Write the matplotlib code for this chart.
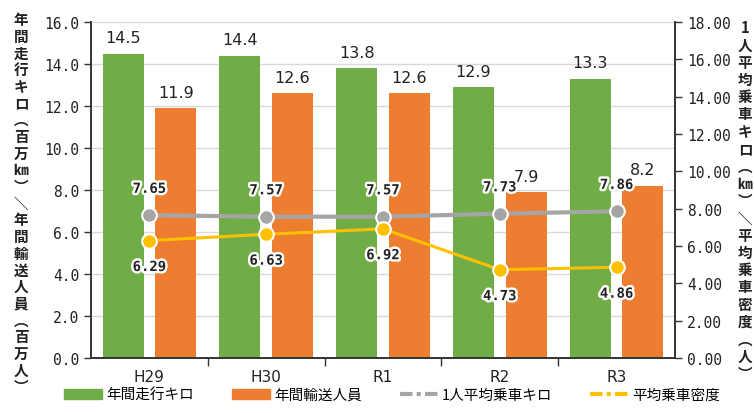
import matplotlib
matplotlib.use("Agg")
import matplotlib.pyplot as plt
import matplotlib.patheffects as pe
from matplotlib.lines import Line2D
from matplotlib.patches import Patch
from matplotlib.ticker import FormatStrFormatter, MultipleLocator
import numpy as np

years = ["H29", "H30", "R1", "R2", "R3"]
km_total = [14.5, 14.4, 13.8, 12.9, 13.3]      # 年間走行キロ (百万km)
passengers = [11.9, 12.6, 12.6, 7.9, 8.2]      # 年間輸送人員 (百万人)
avg_km = [7.65, 7.57, 7.57, 7.73, 7.86]        # 1人平均乗車キロ (km)
density = [6.29, 6.63, 6.92, 4.73, 4.86]       # 平均乗車密度 (人)

series_names = ["年間走行キロ", "年間輸送人員", "1人平均乗車キロ", "平均乗車密度"]
left_title = (list("年間走行キロ") + ["︵", "百", "万", "㎞", "︶", "＼"]
              + list("年間輸送人員") + ["︵", "百", "万", "人", "︶"])
right_title = (list("1人平均乗車キロ") + ["︵", "㎞", "︶", "＼"]
               + list("平均乗車密度") + ["︵", "人", "︶"])

GREEN = "#70ad47"
ORANGE = "#ed7d31"
GRAY = "#a5a5a5"
YELLOW = "#ffc000"
AXIS = "#333333"
JP = ["Noto Sans CJK JP", "DejaVu Sans"]
NUM = ["Liberation Sans Narrow", "DejaVu Sans"]
MONO = "DejaVu Sans Mono"

W, H = 754, 414
fig = plt.figure(figsize=(W / 100, H / 100), dpi=100)
ax = fig.add_axes([91 / W, 1 - 359 / H, 584 / W, 336 / H])
ax2 = ax.twinx()

x = np.arange(len(years))
bw = 0.35
b1 = ax.bar(x - 0.225, km_total, bw, color=GREEN, zorder=2)
b2 = ax.bar(x + 0.225, passengers, bw, color=ORANGE, zorder=2)
for bars, vals in ((b1, km_total), (b2, passengers)):
    ax.bar_label(bars, labels=[f"{v:.1f}" for v in vals], padding=6,
                 fontsize=11.5, family=NUM, color="#222222")

ax.set_xlim(-0.5, len(years) - 0.5)
ax.set_ylim(0, 16)
ax2.set_ylim(0, 18)

halo = [pe.withStroke(linewidth=3.5, foreground="white")]
for vals, col, lw, dy in ((avg_km, GRAY, 3.0, 19), (density, YELLOW, 2.2, -19)):
    ax2.plot(x, vals, color=col, lw=lw, marker="o", ms=10.5, mfc=col,
             mec="white", mew=1.5, zorder=3)
    for xi, v in zip(x, vals):
        ax2.annotate(f"{v:.2f}", (xi, v), xytext=(0, dy), textcoords="offset points",
                     ha="center", va="center", fontsize=10, family=MONO,
                     fontweight="bold", color="#222222", path_effects=halo, zorder=4)

# grid and axes
ax.set_axisbelow(True)
ax.yaxis.set_major_locator(MultipleLocator(2))
ax.yaxis.set_major_formatter(FormatStrFormatter("%.1f"))
ax.grid(axis="y", color="#d9d9d9", lw=1)
ax2.yaxis.set_major_locator(MultipleLocator(2))
ax2.yaxis.set_major_formatter(FormatStrFormatter("%.2f"))

ax.set_xticks(x)
ax.set_xticklabels(years, family=NUM, fontsize=11)
ax.set_xticks(np.arange(0.5, len(years) - 0.5), minor=True)
ax.tick_params(axis="x", which="major", length=0, pad=8, colors="#222222")
ax.tick_params(axis="x", which="minor", length=6, width=1, color=AXIS)
ax.tick_params(axis="y", length=5, width=1, color=AXIS, labelcolor="#222222", labelsize=10.5)
ax2.tick_params(axis="y", length=5, width=1, color=AXIS, labelcolor="#222222", labelsize=10.5)
for lab in ax.get_yticklabels() + ax2.get_yticklabels():
    lab.set_family(MONO)

for a in (ax, ax2):
    a.spines["top"].set_visible(False)
    for s in ("left", "right", "bottom"):
        a.spines[s].set_color(AXIS)
        a.spines[s].set_linewidth(1.2)


def vertical_title(chars, xc, ytop, step):
    for i, ch in enumerate(chars):
        fig.text(xc / W, 1 - (ytop + i * step) / H, ch, ha="center", va="center",
                 fontsize=10.5, family=JP, fontweight="bold", color="#222222")


vertical_title(left_title, 21, 20, 16.7)
vertical_title(right_title, 745, 28, 17.3)

handles = [
    Patch(color=GREEN),
    Patch(color=ORANGE),
    Line2D([], [], color=GRAY, lw=3, ls=(0, (3, 1, 1, 1))),
    Line2D([], [], color=YELLOW, lw=3, ls=(0, (3, 1, 1, 1))),
]
fig.legend(handles, series_names, loc="center", bbox_to_anchor=(0.52, 1 - 396 / H),
           ncol=4, frameon=False, prop={"family": JP, "size": 10.5},
           handlelength=2.6, handleheight=0.7, handletextpad=0.3, columnspacing=2.6)

fig.savefig("out.png", dpi=100)
